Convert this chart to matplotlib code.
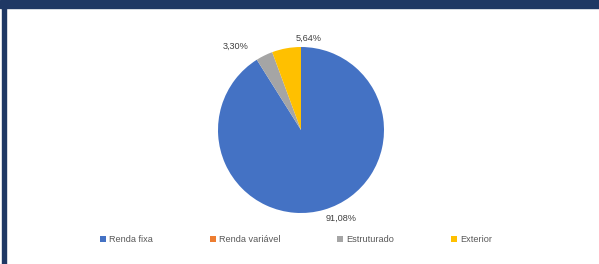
import numpy as np
import matplotlib.pyplot as plt
from matplotlib.patches import Rectangle

# -----------------------------
# Data
# -----------------------------
categories = ["Renda fixa", "Renda variável", "Estruturado", "Exterior"]
values = [91.08, 0.0, 3.30, 5.64]
colors = ["#4472C4", "#ED7D31", "#A5A5A5", "#FFC000"]

# label placement: (radius factor, ha, va, nudge in points) per slice
label_place = {
    "Renda fixa": (1.05, "left", "top", (0, 0)),
    "Estruturado": (1.12, "right", "bottom", (-8, -3)),
    "Exterior": (1.05, "left", "bottom", (7, 1)),
}

plt.rcParams["font.family"] = ["Liberation Sans", "DejaVu Sans"]

fig = plt.figure(figsize=(5.99, 2.64), dpi=100)

# frame: dark band on top and left
fig.patches.append(Rectangle((0, 1 - 8 / 264), 1, 8 / 264, transform=fig.transFigure,
                             color="#1F3864", zorder=0))
fig.patches.append(Rectangle((2 / 599, 0), 4 / 599, 1, transform=fig.transFigure,
                             color="#1F3864", zorder=0))

ax = fig.add_axes([218 / 599, 51 / 264, 166 / 599, 166 / 264])
wedges, _ = ax.pie(values, colors=colors, startangle=90, counterclock=False,
                   wedgeprops=dict(linewidth=0))
ax.set_xlim(-1, 1)
ax.set_ylim(-1, 1)
ax.set_aspect("equal")

# data labels outside the slices
for w, cat, v in zip(wedges, categories, values):
    if v == 0:
        continue
    r, ha, va, nudge = label_place[cat]
    ang = np.deg2rad((w.theta1 + w.theta2) / 2)
    x, y = r * np.cos(ang), r * np.sin(ang)
    txt = f"{v:.2f}%".replace(".", ",")
    ax.annotate(txt, (x, y), xytext=nudge, textcoords="offset points",
                ha=ha, va=va, fontsize=6.6, color="#404040", annotation_clip=False)

leg = fig.legend(wedges, categories, loc="center", bbox_to_anchor=(0.494, 0.091),
                 ncol=4, frameon=False, fontsize=6.6, handlelength=0.7,
                 handleheight=0.7, handletextpad=0.3, columnspacing=6.2,
                 labelcolor="#595959")

fig.savefig("out.png", dpi=100)
